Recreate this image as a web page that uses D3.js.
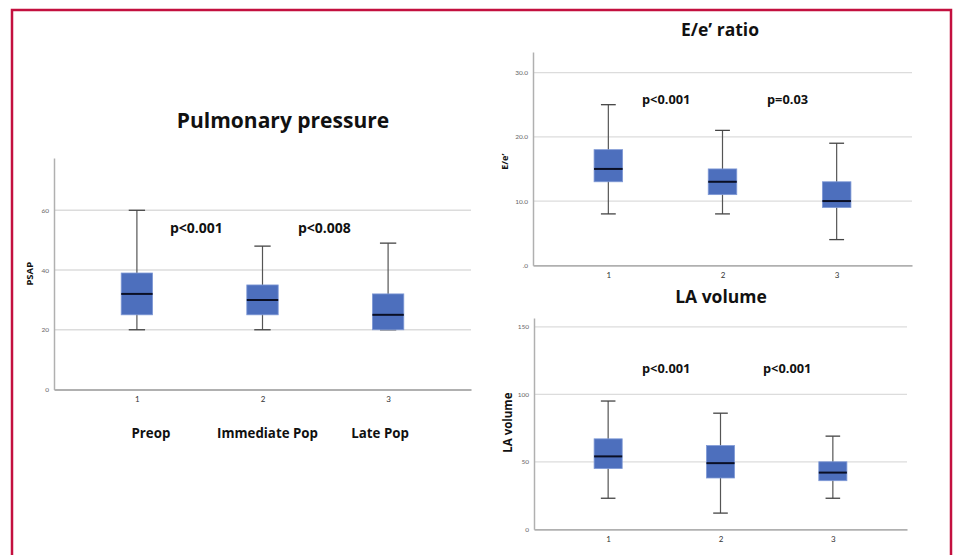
<!DOCTYPE html>
<html><head><meta charset="utf-8">
<script src="https://cdn.jsdelivr.net/npm/d3@7"></script>
<style>body{margin:0;background:#fff}svg{display:block}</style>
</head><body><svg id="c" width="956" height="555"></svg>
<script>
// ---- data ----
const categories = ["1", "2", "3"];
const psapGroupLabels = ["Preop", "Immediate Pop", "Late Pop"];
const psapMin = [20, 20, 20];
const psapQ1  = [25, 25, 20];
const psapMed = [32, 30, 25];
const psapQ3  = [39, 35, 32];
const psapMax = [60, 48, 49];
const psapTicks = [0, 20, 40, 60];
const psapP = ["p<0.001", "p<0.008"];

const eeMin = [8, 8, 4];
const eeQ1  = [13, 11, 9];
const eeMed = [15, 13, 10];
const eeQ3  = [18, 15, 13];
const eeMax = [25, 21, 19];
const eeTicks = [0, 10, 20, 30];
const eeP = ["p<0.001", "p=0.03"];

const laMin = [23, 12, 23];
const laQ1  = [45, 38, 36];
const laMed = [54, 49, 42];
const laQ3  = [67, 62, 50];
const laMax = [95, 86, 69];
const laTicks = [0, 50, 100, 150];
const laP = ["p<0.001", "p<0.001"];

const svg = d3.select("#c");
const FONT = "'Open Sans', Lato, sans-serif";
const SMALL = "Lato, 'Open Sans', sans-serif";

// frame
svg.append("path").attr("d", "M12,560 V10 H951 V560")
  .attr("fill", "none").attr("stroke", "#c3103f").attr("stroke-width", 2.5);

function panel(o) {
  const x = d3.scalePoint().domain(categories).range([o.x0, o.x1]).padding(0.66);
  const y = d3.scaleLinear().domain([0, o.ymax]).range([o.yb, o.yt]);
  const g = svg.append("g");
  const step = x.step();
  // grid
  g.selectAll(".grid").data(o.ticks.filter(t => t > 0)).join("line")
    .attr("x1", o.x0).attr("x2", o.x1).attr("y1", d => y(d)).attr("y2", d => y(d))
    .attr("stroke", "#dcdcdc").attr("stroke-width", 1.3);
  // y axis
  const ya = g.append("g").attr("transform", `translate(${o.x0},0)`)
    .call(d3.axisLeft(y).tickValues(o.ticks).tickSize(0).tickPadding(5).tickFormat(o.fmt));
  ya.select(".domain").attr("stroke", "#b0b0b0").attr("stroke-width", 1.5);
  ya.selectAll("text").attr("font-family", SMALL).attr("font-size", 6.5).attr("fill", "#666");
  // x axis
  const xa = g.append("g").attr("transform", `translate(0,${o.yb})`)
    .call(d3.axisBottom(x).tickSize(0).tickPadding(7));
  xa.select(".domain").attr("stroke", "#b0b0b0").attr("stroke-width", 1.8);
  xa.selectAll("text").attr("font-family", SMALL).attr("font-size", 8).attr("fill", "#333");

  const bw = step * 0.25, cw = step * 0.13;
  const data = categories.map((c, i) => ({c, mn: o.mn[i], q1: o.q1[i], md: o.md[i], q3: o.q3[i], mx: o.mx[i]}));
  const b = g.selectAll(".box").data(data).join("g");
  b.append("line").attr("x1", d => x(d.c)).attr("x2", d => x(d.c))
    .attr("y1", d => y(d.mx)).attr("y2", d => y(d.mn)).attr("stroke", "#555").attr("stroke-width", 1.2);
  b.append("line").attr("x1", d => x(d.c) - cw / 2).attr("x2", d => x(d.c) + cw / 2)
    .attr("y1", d => y(d.mx)).attr("y2", d => y(d.mx)).attr("stroke", "#444").attr("stroke-width", 1.3);
  b.append("line").attr("x1", d => x(d.c) - cw / 2).attr("x2", d => x(d.c) + cw / 2)
    .attr("y1", d => y(d.mn)).attr("y2", d => y(d.mn)).attr("stroke", "#444").attr("stroke-width", 1.3);
  b.append("rect").attr("x", d => x(d.c) - bw / 2).attr("width", bw)
    .attr("y", d => y(d.q3)).attr("height", d => y(d.q1) - y(d.q3))
    .attr("fill", "#4d6fbd").attr("stroke", "#7f99d6").attr("stroke-width", 0.8);
  b.append("line").attr("x1", d => x(d.c) - bw / 2).attr("x2", d => x(d.c) + bw / 2)
    .attr("y1", d => y(d.md)).attr("y2", d => y(d.md)).attr("stroke", "#0a0f25").attr("stroke-width", 2);

  // title
  g.append("text").attr("x", o.tx).attr("y", o.ty).attr("text-anchor", "middle")
    .attr("font-family", FONT).attr("font-weight", "bold").attr("font-size", o.tfs).attr("fill", "#111").text(o.title);
  // y label
  g.append("text").attr("transform", `translate(${o.lx},${(o.yt + o.yb) / 2 + o.ldy}) rotate(-90)`)
    .attr("text-anchor", "middle").attr("font-family", FONT).attr("font-weight", "bold")
    .attr("font-size", o.lfs).attr("fill", "#111").text(o.ylabel);
  // p-values
  g.selectAll(".pv").data(o.p).join("text")
    .attr("x", (d, i) => o.px[i]).attr("y", o.py)
    .attr("font-family", FONT).attr("font-weight", "bold").attr("font-size", o.pfs).attr("fill", "#111").text(d => d);
  return {x, y, g};
}

const left = panel({x0: 54, x1: 471, yb: 389.5, yt: 158, ymax: 77.5, ticks: psapTicks, fmt: d3.format("d"),
  mn: psapMin, q1: psapQ1, md: psapMed, q3: psapQ3, mx: psapMax,
  title: "Pulmonary pressure", tx: 283, ty: 128, tfs: 21,
  ylabel: "PSAP", lx: 33, ldy: 0, lfs: 9.5,
  p: psapP, px: [170, 298], py: 233, pfs: 14});
const grpShift = [14, 5, -8];
left.g.selectAll(".grp").data(psapGroupLabels).join("text")
  .attr("x", (d, i) => left.x(categories[i]) + grpShift[i]).attr("y", 438).attr("text-anchor", "middle")
  .attr("font-family", FONT).attr("font-weight", "bold").attr("font-size", 13.3).attr("fill", "#111").text(d => d);

panel({x0: 533, x1: 912, yb: 265.3, yt: 52, ymax: 33.2, ticks: eeTicks,
  fmt: d => d === 0 ? ".0" : d3.format(".1f")(d),
  mn: eeMin, q1: eeQ1, md: eeMed, q3: eeQ3, mx: eeMax,
  title: "E/e\u2019 ratio", tx: 720, ty: 36, tfs: 17.5,
  ylabel: "E/e\u2019", lx: 508, ldy: 3, lfs: 9,
  p: eeP, px: [642, 767], py: 104, pfs: 12.8});

panel({x0: 534, x1: 907, yb: 529.3, yt: 318, ymax: 156.5, ticks: laTicks, fmt: d3.format("d"),
  mn: laMin, q1: laQ1, md: laMed, q3: laQ3, mx: laMax,
  title: "LA volume", tx: 721, ty: 303, tfs: 17.5,
  ylabel: "LA volume", lx: 512, ldy: -1, lfs: 11.5,
  p: laP, px: [642, 763], py: 373, pfs: 12.8});
</script></body></html>
